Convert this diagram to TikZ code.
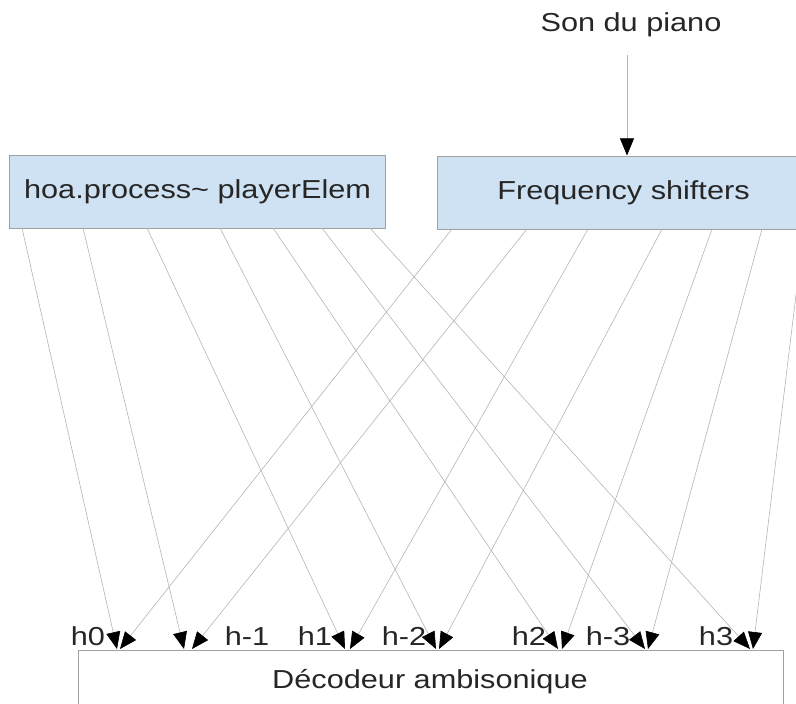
\documentclass[tikz,border=0pt]{standalone}
\usepackage{fontspec}
\setmainfont{Liberation Sans}[FakeStretch=1.18]
\usetikzlibrary{arrows.meta}
\definecolor{boxblue}{HTML}{CFE2F3}
\definecolor{boxline}{HTML}{A0A0A0}
\definecolor{wire}{HTML}{B4B4B4}
\begin{document}
\begin{tikzpicture}[x=1pt,y=-1pt,
  blockbox/.style={draw=boxline,line width=1.2pt,fill=boxblue,inner sep=0pt},
  decbox/.style={draw=boxline,line width=1.2pt,fill=white,inner sep=0pt},
  txt/.style={font=\fontsize{26}{30}\selectfont,text=black!85,inner sep=0pt},
  wirearrow/.style={draw=wire,line width=0.6pt,-{Triangle[length=17pt,width=14pt,color=black,fill=black]}}]
\useasboundingbox (0,0) rectangle (796,704);
\clip (0,0) rectangle (796,704);
% boxes
\node[blockbox,minimum width=376pt,minimum height=73pt,anchor=north west] (pe) at (9,155) {};
\node[txt] (pet) at (pe.center) {hoa.process\char`~{} playerElem};
\node[blockbox,minimum width=373pt,minimum height=73pt,anchor=north west] (fs) at (437,156) {};
\node[txt] (fst) at (623.5,193) {Frequency shifters};
\node[decbox,minimum width=705pt,minimum height=66pt,anchor=north west] (dec) at (78,650) {};
\node[txt] (dect) at (430,682) {Décodeur ambisonique};
% input
\node[txt] (son) at (631,25) {Son du piano};
\coordinate (sonbot) at (627,55);
\draw[wirearrow] (sonbot) -- (627,155.4) coordinate (fstop);
% starts on left box
\foreach \i/\x in {0/22,1/83,2/147,3/220,4/273,5/322,6/370}{
  \coordinate (ls\i) at (\x,228);
}
\foreach \i/\x in {0/452,1/527,2/588,3/662,4/712,5/762,6/804}{
  \coordinate (rs\i) at (\x,229);
}
% tips
\foreach \i/\a/\b in {0/117/120,1/184/192,2/345/350,3/436/439,4/558/562,5/645/648,6/750/753}{
  \coordinate (ta\i) at (\a,649);
  \coordinate (tb\i) at (\b,649);
}
\foreach \i in {0,...,6}{
  \draw[wirearrow] (ls\i) -- (ta\i);
  \draw[wirearrow] (rs\i) -- (tb\i);
}
% labels
\node[txt] (h0) at (88,636) {h0};
\node[txt] (hm1) at (247,636) {h-1};
\node[txt] (h1) at (315,636) {h1};
\node[txt] (hm2) at (404,636) {h-2};
\node[txt] (h2) at (529,636) {h2};
\node[txt] (hm3) at (608,636) {h-3};
\node[txt] (h3) at (716,636) {h3};
\end{tikzpicture}
\end{document}
